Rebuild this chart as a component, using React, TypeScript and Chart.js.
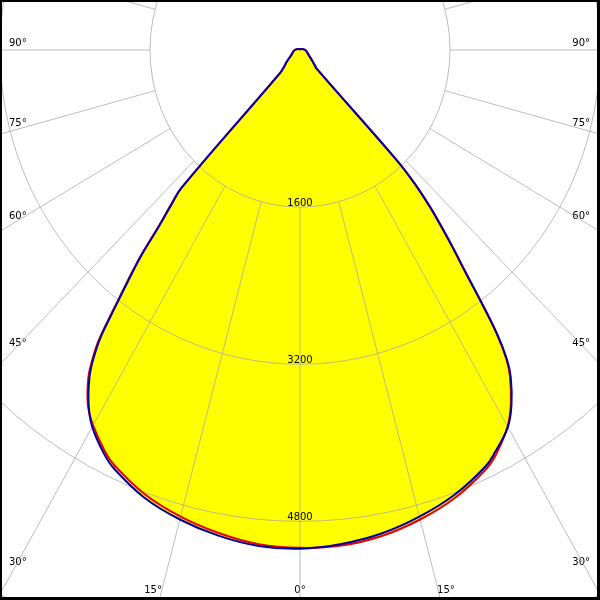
import React, { useEffect, useRef } from 'react';
import { Chart, registerables } from 'chart.js';

Chart.register(...registerables);

// Gamma angles (deg), negative = left half of the diagram
const GAMMA = [
  -180, -150, -120, -90, -75, -60, -50, -45, -42.2, -42, -41, -40, -39, -38, -37, -36, -35, -34, -32, -30,
  -27, -25, -20, -15, -10, -5, 0, 5, 10, 15, 20, 25, 27, 30, 32, 34, 35, 36, 37, 38, 39, 40, 41, 42, 42.6, 43, 45,
  50, 60, 75, 90, 120, 150, 180,
];

// Luminous intensity, C0-C180 plane (red)
const RED = [
  5, 8, 20, 55, 75, 110, 180, 240, 320, 1900, 2120, 2350, 2700, 2990, 3300, 3650, 3870, 4040, 4268, 4415,
  4585, 4672, 4820, 4920, 4995, 5052, 5070, 5066, 5025, 4950, 4850, 4705, 4615, 4428, 4245, 4005, 3835, 3565, 3195, 2845, 2585, 2335, 2095, 1805, 1510, 260, 225,
  170, 110, 75, 55, 20, 8, 5,
];

// Luminous intensity, C90-C270 plane (blue)
const BLUE = [
  5, 8, 20, 55, 75, 110, 180, 240, 315, 1880, 2100, 2330, 2680, 2965, 3270, 3620, 3845, 4015, 4255, 4432,
  4610, 4700, 4852, 4950, 5022, 5070, 5079, 5050, 5000, 4920, 4820, 4680, 4590, 4434, 4257, 4020, 3850, 3580, 3210, 2860, 2600, 2350, 2110, 1820, 1520, 260, 225,
  170, 110, 75, 55, 20, 8, 5,
];

const RINGS = [1600, 3200, 4800, 6400];
const RING_LABELS = ['1600', '3200', '4800'];
const ANGLE_LABELS = [90, 75, 60, 45, 30, 15, 0];
const SPOKE_STEP = 15;

const X_MIN = -3200;
const X_MAX = 3200;
const Y_MIN = -5601;
const Y_MAX = 509;

const RED_COLOR = 'rgb(230,0,0)';
const BLUE_COLOR = 'rgb(0,0,170)';
const FILL_COLOR = '#ffff00';
const GRID_COLOR = 'rgba(165,165,165,0.75)';
const FONT = '10px "DejaVu Sans"';

function toXY(values: number[]) {
  return GAMMA.map((g, i) => {
    const t = (g * Math.PI) / 180;
    return { x: values[i] * Math.sin(t), y: -values[i] * Math.cos(t) };
  });
}

const polarGrid = {
  id: 'polarGrid',
  beforeDatasetsDraw(chart: any) {
    const { ctx, chartArea: area } = chart;
    const xs = chart.scales.x;
    const ys = chart.scales.y;
    const px = (v: number) => xs.getPixelForValue(v);
    const py = (v: number) => ys.getPixelForValue(v);
    const cx = px(0);
    const cy = py(0);
    ctx.save();
    ctx.font = FONT;
    ctx.fillStyle = '#000';
    ctx.textBaseline = 'alphabetic';

    // ring labels
    ctx.textAlign = 'center';
    RING_LABELS.forEach((lab, i) => {
      ctx.fillText(lab, cx, py(-RINGS[i]) - 1);
    });

    // angle labels
    ANGLE_LABELS.forEach((a) => {
      const sides = a === 0 ? [1] : [-1, 1];
      sides.forEach((s) => {
        const t = (s * a * Math.PI) / 180;
        const dx = Math.sin(t);
        const dy = -Math.cos(t);
        const text = `${a}°`;
        if (a >= 30) {
          const xp = s < 0 ? area.left + 14 : area.right - 14;
          const xv = xs.getValueForPixel(xp);
          const yv = (xv / dx) * dy;
          ctx.textAlign = s < 0 ? 'left' : 'right';
          ctx.fillText(text, s < 0 ? area.left + 9 : area.right - 10, py(yv) - 4);
        } else {
          const yp = area.bottom - 14;
          const yv = ys.getValueForPixel(yp);
          const xv = a === 0 ? 0 : (yv / dy) * dx;
          const lx = px(xv);
          if (a === 0) {
            ctx.textAlign = 'center';
            ctx.fillText(text, lx, area.bottom - 7);
          } else if (s < 0) {
            ctx.textAlign = 'right';
            ctx.fillText(text, lx - 1, area.bottom - 7);
          } else {
            ctx.textAlign = 'left';
            ctx.fillText(text, lx, area.bottom - 7);
          }
        }
      });
    });

    // grid
    ctx.strokeStyle = GRID_COLOR;
    ctx.lineWidth = 1;
    RINGS.forEach((r) => {
      ctx.beginPath();
      ctx.ellipse(cx, cy, px(r) - cx, cy - py(r), 0, 0, Math.PI * 2);
      ctx.stroke();
    });
    for (let k = 0; k < 360 / SPOKE_STEP; k++) {
      const t = (k * SPOKE_STEP * Math.PI) / 180;
      const r0 = RINGS[0];
      const r1 = 20000;
      ctx.beginPath();
      ctx.moveTo(px(r0 * Math.sin(t)), py(-r0 * Math.cos(t)));
      ctx.lineTo(px(r1 * Math.sin(t)), py(-r1 * Math.cos(t)));
      ctx.stroke();
    }
    ctx.restore();
  },
  afterDraw(chart: any) {
    const { ctx, width, height } = chart;
    ctx.save();
    ctx.fillStyle = '#000';
    ctx.fillRect(0, 0, width, 2);
    ctx.fillRect(0, 0, 2, height);
    ctx.fillRect(width - 3, 0, 3, height);
    ctx.fillRect(0, height - 3, width, 3);
    ctx.restore();
  },
};

export default function App() {
  const ref = useRef<HTMLCanvasElement | null>(null);
  useEffect(() => {
    if (!ref.current) return;
    const common = {
      showLine: true,
      borderWidth: 2,
      backgroundColor: FILL_COLOR,
      fill: 'shape',
      pointRadius: 0,
      tension: 0.4,
      borderJoinStyle: 'round',
    };
    const chart = new Chart(ref.current, {
      type: 'scatter',
      data: {
        datasets: [
          { ...common, label: 'C90-C270', data: toXY(BLUE), borderColor: BLUE_COLOR } as any,
          { ...common, label: 'C0-C180', data: toXY(RED), borderColor: RED_COLOR } as any,
        ],
      },
      options: {
        animation: false,
        responsive: false,
        maintainAspectRatio: false,
        events: [],
        layout: { padding: 0 },
        scales: {
          x: { type: 'linear', min: X_MIN, max: X_MAX, display: false },
          y: { type: 'linear', min: Y_MIN, max: Y_MAX, display: false },
        },
        plugins: {
          legend: { display: false },
          tooltip: { enabled: false },
          filler: { drawTime: 'beforeDatasetsDraw' },
        } as any,
      },
      plugins: [polarGrid],
    });
    return () => chart.destroy();
  }, []);
  return (
    <div style={{ position: 'fixed', left: 0, top: 0, width: 600, height: 600, background: '#fff' }}>
      <canvas ref={ref} width={600} height={600} />
    </div>
  );
}
